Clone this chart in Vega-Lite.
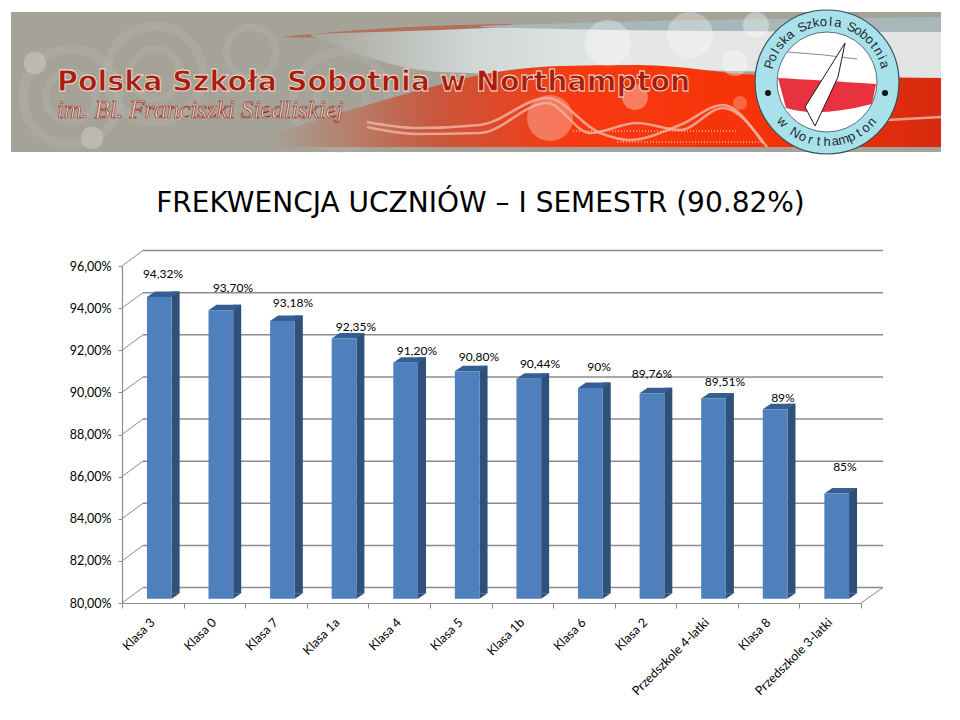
{
  "$schema": "https://vega.github.io/schema/vega-lite/v6.json",
  "width": 739,
  "height": 337,
  "autosize": {"type": "none"},
  "padding": {"left": 122, "top": 266, "right": 99, "bottom": 117},
  "background": "white",
  "title": {
    "text": "FREKWENCJA UCZNIÓW – I SEMESTR (90.82%)",
    "font": "DejaVu Sans",
    "fontSize": 28,
    "fontWeight": "normal",
    "color": "#000000",
    "anchor": "middle",
    "dx": -11,
    "offset": -210
  },
  "config": {
    "view": {"stroke": null},
    "font": "Lato"
  },
  "datasets": {
    "classes": [
      {"klasa": "Klasa 3", "wynik": 94.32, "label": "94,32%"},
      {"klasa": "Klasa 0", "wynik": 93.7, "label": "93,70%"},
      {"klasa": "Klasa 7", "wynik": 93.18, "label": "93,18%"},
      {"klasa": "Klasa 1a", "wynik": 92.35, "label": "92,35%"},
      {"klasa": "Klasa 4", "wynik": 91.2, "label": "91,20%"},
      {"klasa": "Klasa 5", "wynik": 90.8, "label": "90,80%"},
      {"klasa": "Klasa 1b", "wynik": 90.44, "label": "90,44%"},
      {"klasa": "Klasa 6", "wynik": 90, "label": "90%"},
      {"klasa": "Klasa 2", "wynik": 89.76, "label": "89,76%"},
      {"klasa": "Przedszkole 4-latki", "wynik": 89.51, "label": "89,51%"},
      {"klasa": "Klasa 8", "wynik": 89, "label": "89%"},
      {"klasa": "Przedszkole 3-latki", "wynik": 85, "label": "85%"}
    ],
    "ticks": [
      {"tick": 80}, {"tick": 82}, {"tick": 84}, {"tick": 86}, {"tick": 88},
      {"tick": 90}, {"tick": 92}, {"tick": 94}, {"tick": 96}
    ]
  },
  "layer": [
    {
      "encoding": {
        "x": {"field": "x", "type": "quantitative", "axis": null, "scale": {"domain": [0, 930], "range": [-111, 819], "nice": false, "zero": false}},
        "y": {"field": "y", "type": "quantitative", "axis": null, "scale": {"domain": [0, 140], "range": [-254, -114], "nice": false, "zero": false}}
      },
      "layer": [
        {
          "data": {"values": [{"x": 0, "x2": 930, "y": 0, "y2": 140}]},
          "mark": {"type": "rect", "color": "#a5a398"},
          "encoding": {"x2": {"field": "x2"}, "y2": {"field": "y2"}}
        },
        {
          "data": {"values": [{"x": 144, "y": 62}, {"x": 330, "y": 88}, {"x": 60, "y": 85}]},
          "mark": {"type": "point", "size": 9216, "stroke": "#b4b2a9", "strokeWidth": 9, "opacity": 0.45, "fill": null}
        },
        {
          "data": {"values": [{"x": 144, "y": 62}, {"x": 330, "y": 88}, {"x": 60, "y": 85}, {"x": 240, "y": 40}]},
          "mark": {"type": "point", "size": 2500, "stroke": "#b4b2a9", "strokeWidth": 7, "opacity": 0.4, "fill": null}
        },
        {
          "data": {"values": [{"x": 24, "y": 51}, {"x": 81, "y": 126}]},
          "mark": {"type": "point", "filled": true, "size": 500, "color": "#c0beb6", "opacity": 0.8}
        },
        {
          "data": {"values": [
            {"x": 270, "y": 25, "y2": 25}, {"x": 350, "y": 18, "y2": 26}, {"x": 420, "y": 14, "y2": 20}, {"x": 500, "y": 12, "y2": 16}
          ]},
          "mark": {"type": "area", "interpolate": "monotone", "color": "#b5705c"},
          "encoding": {"y2": {"field": "y2"}}
        },
        {
          "data": {"values": [
            {"x": 300, "y": 22, "y2": 24}, {"x": 430, "y": 18, "y2": 60}, {"x": 520, "y": 15, "y2": 62}, {"x": 650, "y": 18, "y2": 58}, {"x": 930, "y": 20, "y2": 68}
          ]},
          "mark": {
            "type": "area",
            "interpolate": "monotone",
            "color": {
              "x1": 0, "y1": 0, "x2": 1, "y2": 0,
              "gradient": "linear",
              "stops": [
                {"offset": 0, "color": "#a5a398"},
                {"offset": 0.25, "color": "#cfd6d6"},
                {"offset": 0.5, "color": "#e6e8e8"},
                {"offset": 1, "color": "#e2e4e4"}
              ]
            }
          },
          "encoding": {"y2": {"field": "y2"}}
        },
        {
          "data": {"values": [
            {"x": 470, "y": 14, "y2": 15}, {"x": 600, "y": 10, "y2": 18}, {"x": 930, "y": 5, "y2": 20}
          ]},
          "mark": {"type": "area", "interpolate": "monotone", "color": "#a8b8ba"},
          "encoding": {"y2": {"field": "y2"}}
        },
        {
          "data": {"values": [
            {"x": 259, "y": 123, "y2": 135}, {"x": 339, "y": 98, "y2": 135}, {"x": 409, "y": 78, "y2": 135},
            {"x": 469, "y": 63, "y2": 135}, {"x": 549, "y": 54, "y2": 135}, {"x": 629, "y": 53, "y2": 135},
            {"x": 749, "y": 63, "y2": 135}, {"x": 930, "y": 66, "y2": 135}
          ]},
          "mark": {
            "type": "area",
            "interpolate": "monotone",
            "color": {
              "x1": 0, "y1": 0, "x2": 1, "y2": 0,
              "gradient": "linear",
              "stops": [
                {"offset": 0, "color": "#a5a398"},
                {"offset": 0.25, "color": "#c9563c"},
                {"offset": 0.45, "color": "#f83a10"},
                {"offset": 0.75, "color": "#f63208"},
                {"offset": 1, "color": "#d62a10"}
              ]
            }
          },
          "encoding": {"y2": {"field": "y2"}}
        },
        {
          "data": {"values": [{"x": 597, "y": 31}, {"x": 679, "y": 23}, {"x": 539, "y": 106}]},
          "mark": {"type": "point", "filled": true, "size": 2116, "color": "#ffffff", "opacity": 0.3}
        },
        {
          "data": {"values": [{"x": 724, "y": 51}, {"x": 624, "y": 85}, {"x": 745, "y": 13}]},
          "mark": {"type": "point", "filled": true, "size": 676, "color": "#ffffff", "opacity": 0.35}
        },
        {
          "data": {"values": [{"x": 729, "y": 91}]},
          "mark": {"type": "point", "filled": true, "size": 196, "color": "#ffffff", "opacity": 0.25}
        },
        {
          "data": {"values": [
            {"w": "a", "x": 356, "y": 110}, {"w": "a", "x": 406, "y": 116}, {"w": "a", "x": 469, "y": 113}, {"w": "a", "x": 536, "y": 86},
            {"w": "a", "x": 589, "y": 121}, {"w": "a", "x": 619, "y": 128}, {"w": "a", "x": 669, "y": 113}, {"w": "a", "x": 712, "y": 93}, {"w": "a", "x": 752, "y": 131},
            {"w": "b", "x": 356, "y": 115}, {"w": "b", "x": 406, "y": 122}, {"w": "b", "x": 469, "y": 121}, {"w": "b", "x": 536, "y": 91},
            {"w": "b", "x": 579, "y": 121}, {"w": "b", "x": 626, "y": 111}, {"w": "b", "x": 669, "y": 118}, {"w": "b", "x": 712, "y": 96}, {"w": "b", "x": 756, "y": 135},
            {"w": "c", "x": 876, "y": 108}, {"w": "c", "x": 930, "y": 105}
          ]},
          "mark": {"type": "line", "interpolate": "monotone", "color": "#f2b0a0", "strokeWidth": 2.5, "opacity": 0.85},
          "encoding": {"detail": {"field": "w"}}
        },
        {
          "data": {"values": [
            {"w": "d", "x": 562, "y": 119}, {"w": "d", "x": 726, "y": 119},
            {"w": "e", "x": 606, "y": 130}, {"w": "e", "x": 752, "y": 130}
          ]},
          "mark": {"type": "line", "color": "#f2b0a0", "strokeWidth": 1.5, "strokeDash": [1, 2]},
          "encoding": {"detail": {"field": "w"}}
        },
        {
          "data": {"values": [{"x": 46, "y": 70, "t": "Polska Szkoła Sobotnia w Northampton"}]},
          "mark": {"type": "text", "align": "left", "font": "DejaVu Sans", "fontWeight": "bold", "fontSize": 28.5, "color": "#a81d12", "stroke": "#f5e6d8", "strokeWidth": 0.8},
          "encoding": {"text": {"field": "t"}}
        },
        {
          "data": {"values": [{"x": 46, "y": 98, "t": "im. Bl. Franciszki Siedliskiej"}]},
          "mark": {"type": "text", "align": "left", "font": "Liberation Serif", "fontStyle": "italic", "fontSize": 25, "color": "#f0e0d0", "stroke": "#9a2a1c", "strokeWidth": 0.7},
          "encoding": {"text": {"field": "t"}}
        },
        {
          "data": {"values": [{"x": 816, "y": 70}]},
          "mark": {"type": "point", "filled": true, "size": 20736, "color": "#a9e1ea", "stroke": "#35505a", "strokeWidth": 1.2, "opacity": 1}
        },
        {
          "data": {"values": [{"x": 816, "y": 70}]},
          "mark": {"type": "point", "filled": true, "size": 10000, "color": "#ffffff", "stroke": "#55707a", "strokeWidth": 1, "opacity": 1}
        },
        {
          "data": {"values": [{"x": 816, "y": 70}]},
          "mark": {"type": "point", "filled": true, "size": 4, "shape": "M-49,-4 Q-10,-2 49,2 L45,22 Q-10,36 -41,26 Z", "color": "#e8323f", "opacity": 1}
        },
        {
          "data": {"values": [{"x": 816, "y": 70}]},
          "mark": {"type": "point", "size": 4, "shape": "M-40,-30 Q-5,-28 30,-23", "stroke": "#8a8a8a", "strokeWidth": 1, "fill": null, "opacity": 1}
        },
        {
          "data": {"values": [{"x": 816, "y": 70}]},
          "mark": {"type": "point", "size": 4, "shape": "M18,-39 L-22,25 L-12,44 L11,-5 Z", "fill": "#ffffff", "stroke": "#1c1c1c", "strokeWidth": 1, "opacity": 1}
        },
        {
          "data": {"values": [{"x": 757, "y": 81}, {"x": 874, "y": 81}]},
          "mark": {"type": "point", "filled": true, "size": 36, "color": "#111111", "opacity": 1}
        },
        {
          "data": {"values": [
            {"c": "P", "x": 758.6, "y": 52.5, "rot": -73}, {"c": "o", "x": 761.2, "y": 45.6, "rot": -66},
            {"c": "l", "x": 764.5, "y": 39.2, "rot": -59}, {"c": "s", "x": 768.6, "y": 33.2, "rot": -52},
            {"c": "k", "x": 773.4, "y": 27.7, "rot": -45}, {"c": "a", "x": 778.9, "y": 22.9, "rot": -38},
            {"c": "S", "x": 791.3, "y": 15.3, "rot": -24}, {"c": "z", "x": 798.1, "y": 12.8, "rot": -17},
            {"c": "k", "x": 805.1, "y": 11, "rot": -10}, {"c": "o", "x": 812.3, "y": 10.1, "rot": -3},
            {"c": "l", "x": 819.6, "y": 10.1, "rot": 3}, {"c": "a", "x": 826.9, "y": 11, "rot": 10},
            {"c": "S", "x": 840.7, "y": 15.3, "rot": 24}, {"c": "o", "x": 847.2, "y": 18.8, "rot": 31},
            {"c": "b", "x": 853.1, "y": 22.8, "rot": 38}, {"c": "o", "x": 858.6, "y": 27.7, "rot": 45},
            {"c": "t", "x": 863.3, "y": 33.2, "rot": 52}, {"c": "n", "x": 867.5, "y": 39.2, "rot": 59},
            {"c": "i", "x": 870.8, "y": 45.6, "rot": 66}, {"c": "a", "x": 873.4, "y": 52.5, "rot": 73},
            {"c": "w", "x": 771.4, "y": 110.1, "rot": 48}, {"c": "N", "x": 784.2, "y": 120.9, "rot": 32},
            {"c": "o", "x": 791.6, "y": 124.8, "rot": 24}, {"c": "r", "x": 799.4, "y": 127.7, "rot": 16},
            {"c": "t", "x": 807.7, "y": 129.4, "rot": 8}, {"c": "h", "x": 816, "y": 130, "rot": 0},
            {"c": "a", "x": 824.3, "y": 129.4, "rot": -8}, {"c": "m", "x": 832.6, "y": 127.7, "rot": -16},
            {"c": "p", "x": 840.4, "y": 124.8, "rot": -24}, {"c": "t", "x": 847.8, "y": 120.9, "rot": -32},
            {"c": "o", "x": 854.6, "y": 116, "rot": -40}, {"c": "n", "x": 860.6, "y": 110.1, "rot": -48}
          ]},
          "mark": {"type": "text", "font": "Liberation Sans", "fontSize": 13, "color": "#1d2b33", "baseline": "middle"},
          "encoding": {
            "text": {"field": "c"},
            "angle": {"field": "rot", "type": "quantitative", "scale": null}
          }
        }
      ]
    },
    {
      "data": {"name": "ticks"},
      "encoding": {
        "x": {
          "datum": 0,
          "type": "quantitative",
          "scale": {"domain": [0, 12], "nice": false, "zero": false},
          "axis": {
            "values": [0, 1, 2, 3, 4, 5, 6, 7, 8, 9, 10, 11, 12],
            "labels": false,
            "title": null,
            "grid": false,
            "domainColor": "#8c8c8c",
            "domainWidth": 1.2,
            "tickColor": "#8c8c8c",
            "tickSize": 5,
            "orient": "bottom"
          }
        },
        "y": {
          "field": "tick",
          "type": "quantitative",
          "scale": {"domain": [80, 96], "nice": false, "zero": false},
          "axis": {
            "values": [80, 82, 84, 86, 88, 90, 92, 94, 96],
            "labelExpr": "replace(format(datum.value, '.2f'), '.', ',') + '%'",
            "title": null,
            "grid": false,
            "labelFontSize": 12.5,
            "labelColor": "#000000",
            "labelPadding": 7,
            "domainColor": "#8c8c8c",
            "domainWidth": 1.2,
            "tickColor": "#8c8c8c",
            "tickSize": 4
          }
        }
      },
      "layer": [
        {
          "mark": {"type": "rule", "color": "#8c8c8c", "strokeWidth": 1.5, "xOffset": 21, "x2Offset": 22, "yOffset": -15.5},
          "encoding": {"x2": {"datum": 12}}
        },
        {
          "mark": {"type": "rule", "color": "#8c8c8c", "strokeWidth": 1, "x2Offset": 21, "y2Offset": -15.5},
          "encoding": {"x2": {"datum": 0}, "y2": {"field": "tick"}}
        },
        {
          "transform": [{"filter": "datum.tick === 80"}],
          "mark": {"type": "rule", "color": "#8c8c8c", "strokeWidth": 1, "x2Offset": 22, "y2Offset": -15.5},
          "encoding": {"x": {"datum": 12, "type": "quantitative"}, "x2": {"datum": 12}, "y2": {"field": "tick"}}
        }
      ]
    },
    {
      "data": {"name": "classes"},
      "encoding": {
        "x": {
          "field": "klasa",
          "type": "nominal",
          "sort": null,
          "scale": {"type": "band", "paddingInner": 0, "paddingOuter": 0},
          "axis": {
            "title": null,
            "labelAngle": -45,
            "labelAlign": "right",
            "labelBaseline": "middle",
            "labelFontSize": 12.5,
            "labelColor": "#000000",
            "labelPadding": 17,
            "labelLimit": 300,
            "labelOverlap": false,
            "ticks": false,
            "domain": false,
            "orient": "bottom"
          }
        },
        "y": {
          "field": "wynik",
          "type": "quantitative",
          "axis": null,
          "scale": {"domain": [80, 96], "nice": false, "zero": false}
        }
      },
      "layer": [
        {
          "mark": {"type": "bar", "width": 8, "color": "#2f5078", "xOffset": 22.85, "yOffset": -9.8, "y2Offset": -9.8},
          "encoding": {"y2": {"datum": 80}}
        },
        {
          "mark": {"type": "point", "filled": true, "size": 4, "opacity": 1, "color": "#365f91", "xOffset": 6.5, "yOffset": -4.3, "shape": "M-12.35,0 L-4.35,-5.5 L20.35,-5.5 L12.35,0 Z"}
        },
        {
          "mark": {"type": "bar", "width": 24.7, "color": "#4f7fbd", "xOffset": 6.5, "yOffset": -4.3, "y2Offset": -4.3},
          "encoding": {"y2": {"datum": 80}}
        },
        {
          "mark": {"type": "point", "filled": true, "size": 4, "opacity": 1, "color": "#2f5078", "xOffset": 6.5, "yOffset": -4.3, "shape": "M12.35,0 L12.35,-5.5 L20.35,-5.5 Z"},
          "encoding": {"y": {"datum": 80, "type": "quantitative"}}
        },
        {"transform": [{"filter": "datum.klasa === 'Klasa 3'"}], "mark": {"type": "text", "fontSize": 12, "dx": 10.2, "dy": -27.4}, "encoding": {"text": {"field": "label"}}},
        {"transform": [{"filter": "datum.klasa === 'Klasa 0'"}], "mark": {"type": "text", "fontSize": 12, "dx": 18.6, "dy": -26.5}, "encoding": {"text": {"field": "label"}}},
        {"transform": [{"filter": "datum.klasa === 'Klasa 7'"}], "mark": {"type": "text", "fontSize": 12, "dx": 17, "dy": -22.4}, "encoding": {"text": {"field": "label"}}},
        {"transform": [{"filter": "datum.klasa === 'Klasa 1a'"}], "mark": {"type": "text", "fontSize": 12, "dx": 18.4, "dy": -15.9}, "encoding": {"text": {"field": "label"}}},
        {"transform": [{"filter": "datum.klasa === 'Klasa 4'"}], "mark": {"type": "text", "fontSize": 12, "dx": 17.8, "dy": -16.1}, "encoding": {"text": {"field": "label"}}},
        {"transform": [{"filter": "datum.klasa === 'Klasa 5'"}], "mark": {"type": "text", "fontSize": 12, "dx": 18.2, "dy": -18.1}, "encoding": {"text": {"field": "label"}}},
        {"transform": [{"filter": "datum.klasa === 'Klasa 1b'"}], "mark": {"type": "text", "fontSize": 12, "dx": 17.7, "dy": -19.1}, "encoding": {"text": {"field": "label"}}},
        {"transform": [{"filter": "datum.klasa === 'Klasa 6'"}], "mark": {"type": "text", "fontSize": 12, "dx": 15.1, "dy": -25.4}, "encoding": {"text": {"field": "label"}}},
        {"transform": [{"filter": "datum.klasa === 'Klasa 2'"}], "mark": {"type": "text", "fontSize": 12, "dx": 6.5, "dy": -23.5}, "encoding": {"text": {"field": "label"}}},
        {"transform": [{"filter": "datum.klasa === 'Przedszkole 4-latki'"}], "mark": {"type": "text", "fontSize": 12, "dx": 17.9, "dy": -20.7}, "encoding": {"text": {"field": "label"}}},
        {"transform": [{"filter": "datum.klasa === 'Klasa 8'"}], "mark": {"type": "text", "fontSize": 12, "dx": 14.3, "dy": -15.5}, "encoding": {"text": {"field": "label"}}},
        {"transform": [{"filter": "datum.klasa === 'Przedszkole 3-latki'"}], "mark": {"type": "text", "fontSize": 12, "dx": 14.7, "dy": -30.7}, "encoding": {"text": {"field": "label"}}}
      ]
    }
  ],
  "resolve": {"scale": {"x": "independent", "y": "independent"}, "axis": {"x": "independent", "y": "independent"}}
}
